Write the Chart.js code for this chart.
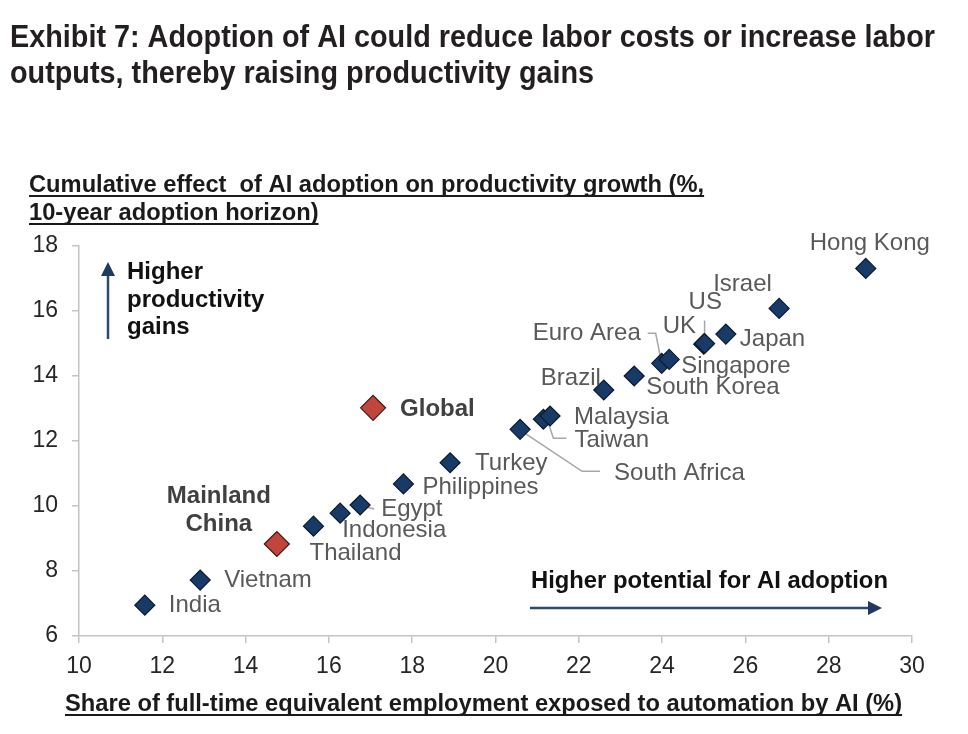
<!DOCTYPE html>
<html>
<head>
<meta charset="utf-8">
<script src="https://cdn.jsdelivr.net/npm/chart.js@4"></script>
<style>
  body { margin: 0; background: #fff; }
</style>
</head>
<body>
<canvas id="myChart" width="968" height="734"></canvas>
<script>
// economies (navy diamonds)
var countries = ['India', 'Vietnam', 'Thailand', 'Indonesia', 'Egypt', 'Philippines', 'Turkey',
  'South Africa', 'Taiwan', 'Malaysia', 'Brazil', 'South Korea', 'Euro Area', 'Singapore',
  'UK', 'US', 'Japan', 'Israel', 'Hong Kong'];
var exposure = [11.58, 12.91, 15.63, 16.27, 16.75, 17.79, 18.91,
  20.59, 21.15, 21.31, 22.60, 23.33, 23.99, 24.17,
  25.00, 25.02, 25.53, 26.81, 28.89];
var productivity = [6.95, 7.72, 9.38, 9.78, 10.03, 10.68, 11.33,
  12.36, 12.67, 12.77, 13.57, 14.00, 14.39, 14.51,
  14.98, 15.00, 15.29, 16.08, 17.31];

// highlighted (red diamonds)
var highlights = ['Mainland China', 'Global'];
var highlightExposure = [14.75, 17.06];
var highlightProductivity = [8.83, 13.02];

var xTicks = [10, 12, 14, 16, 18, 20, 22, 24, 26, 28, 30];
var yTicks = [6, 8, 10, 12, 14, 16, 18];

// label offsets from each marker, in pixels
var labelDx = [24, 24, -4, 2, 21, 19, 25, 94, 31, 24, -63, 12, -129, 12, -41, -16, 14, -66, -56];
var labelDy = [0, 0, 27, 17, 4, 3, 1, 44, 21, 1, -12, 11, -30, 7, -18, -41, 5, -24, -25];

// leader lines (relative to the marker)
var leaders = {
  'Euro Area': [[-14, -30], [-6, -30], [-1, -5]],
  'US': [[0, -23], [0, -4]],
  'Taiwan': [[5, 4], [10, 19], [23, 19]],
  'South Africa': [[2, 2], [62, 42], [80, 42]],
  'Egypt': [[2, 1], [14, 4]]
};

var FONT = '"Liberation Sans", Arial, sans-serif';

function toPoints(xs, ys) {
  return xs.map(function (v, i) { return { x: v, y: ys[i] }; });
}

function arrow(c, x1, y1, x2, y2) {
  var a = Math.atan2(y2 - y1, x2 - x1);
  var len = 14, hw = 7;
  c.save();
  c.strokeStyle = '#2b4a6f';
  c.fillStyle = '#1f3a5f';
  c.lineWidth = 2.5;
  c.beginPath();
  c.moveTo(x1, y1);
  c.lineTo(x2 - Math.cos(a) * len, y2 - Math.sin(a) * len);
  c.stroke();
  c.beginPath();
  c.moveTo(x2, y2);
  c.lineTo(x2 - Math.cos(a) * len - Math.sin(a) * hw, y2 - Math.sin(a) * len + Math.cos(a) * hw);
  c.lineTo(x2 - Math.cos(a) * len + Math.sin(a) * hw, y2 - Math.sin(a) * len - Math.cos(a) * hw);
  c.closePath();
  c.fill();
  c.restore();
}

function underlined(c, text, x, y) {
  c.fillText(text, x, y);
  var w = c.measureText(text).width;
  c.fillRect(x, y + 3, w, 2);
}

var extras = {
  id: 'extras',
  beforeDatasetsDraw: function (chart) {
    var c = chart.ctx;
    var m = chart.getDatasetMeta(0);
    c.save();
    c.strokeStyle = '#a6a6a6';
    c.lineWidth = 1.5;
    countries.forEach(function (name, i) {
      var seg = leaders[name];
      if (!seg) return;
      var p = m.data[i];
      c.beginPath();
      seg.forEach(function (s, k) {
        if (k === 0) c.moveTo(p.x + s[0], p.y + s[1]);
        else c.lineTo(p.x + s[0], p.y + s[1]);
      });
      c.stroke();
    });
    c.restore();
  },
  afterDraw: function (chart) {
    var c = chart.ctx;
    var m = chart.getDatasetMeta(0);
    var h = chart.getDatasetMeta(1);
    c.save();

    // title (condensed look: squeeze Arial-like bold to the line width)
    c.fillStyle = '#231f20';
    c.font = 'bold 32px ' + FONT;
    c.textBaseline = 'alphabetic';
    var t1 = 'Exhibit 7: Adoption of AI could reduce labor costs or increase labor';
    var t2 = 'outputs, thereby raising productivity gains';
    var sx = 925 / c.measureText(t1).width;
    c.save();
    c.translate(10, 0);
    c.scale(sx, 1);
    c.fillText(t1, 0, 47);
    c.fillText(t2, 0, 83);
    c.restore();

    // axis titles
    c.fillStyle = '#1a1a1a';
    c.font = 'bold 23.7px ' + FONT;
    underlined(c, 'Cumulative effect  of AI adoption on productivity growth (%,', 29, 192);
    underlined(c, '10-year adoption horizon)', 29, 220);
    underlined(c, 'Share of full-time equivalent employment exposed to automation by AI (%)', 65, 711);

    // point labels
    c.textBaseline = 'middle';
    c.fillStyle = '#595959';
    c.font = '24px ' + FONT;
    countries.forEach(function (name, i) {
      var p = m.data[i];
      c.fillText(name, p.x + labelDx[i], p.y + labelDy[i]);
    });

    c.fillStyle = '#404040';
    c.font = 'bold 24px ' + FONT;
    var cn = h.data[0];
    c.textAlign = 'center';
    c.fillText('Mainland', cn.x - 58, cn.y - 48);
    c.fillText('China', cn.x - 58, cn.y - 20);
    c.textAlign = 'left';
    var gl = h.data[1];
    c.fillText('Global', gl.x + 27, gl.y + 2);

    // direction notes
    c.fillStyle = '#111';
    c.font = 'bold 24px ' + FONT;
    c.fillText('Higher', 127, 272);
    c.fillText('productivity', 127, 300);
    c.fillText('gains', 127, 327);
    c.font = 'bold 23.8px ' + FONT;
    c.fillText('Higher potential for AI adoption', 531, 581);
    c.restore();

    arrow(c, 108, 339, 108, 262);
    arrow(c, 530, 608, 882, 608);
  }
};

var ctx = document.getElementById('myChart').getContext('2d');
var myChart = new Chart(ctx, {
  type: 'scatter',
  data: {
    datasets: [{
      label: 'Economies',
      data: toPoints(exposure, productivity),
      pointStyle: 'rectRot',
      pointRadius: 10,
      backgroundColor: '#183a66',
      borderColor: '#0b1a30',
      borderWidth: 1.2
    }, {
      label: 'Highlights',
      data: toPoints(highlightExposure, highlightProductivity),
      pointStyle: 'rectRot',
      pointRadius: 12.5,
      backgroundColor: '#c1453a',
      borderColor: '#3d1a16',
      borderWidth: 1.2
    }]
  },
  options: {
    responsive: false,
    animation: false,
    events: [],
    layout: { padding: { left: 0, top: 246, right: 56, bottom: 0 } },
    plugins: { legend: { display: false }, tooltip: { enabled: false } },
    scales: {
      x: {
        type: 'linear',
        min: 10,
        max: 30,
        afterBuildTicks: function (s) { s.ticks = xTicks.map(function (v) { return { value: v }; }); },
        afterFit: function (s) { s.height = 98; },
        border: { color: '#c4c4c4', width: 1.5 },
        grid: { drawOnChartArea: false, drawTicks: true, tickLength: 7, color: '#c4c4c4', lineWidth: 1.5 },
        ticks: { padding: 10, color: '#262626', font: { size: 23, family: FONT } }
      },
      y: {
        type: 'linear',
        min: 6,
        max: 18,
        afterBuildTicks: function (s) { s.ticks = yTicks.map(function (v) { return { value: v }; }); },
        afterFit: function (s) { s.width = 79; },
        border: { color: '#c4c4c4', width: 1.5 },
        grid: { drawOnChartArea: false, drawTicks: true, tickLength: 7, color: '#c4c4c4', lineWidth: 1.5 },
        ticks: { padding: 14, color: '#262626', font: { size: 23, family: FONT } }
      }
    }
  },
  plugins: [extras]
});
</script>
</body>
</html>
